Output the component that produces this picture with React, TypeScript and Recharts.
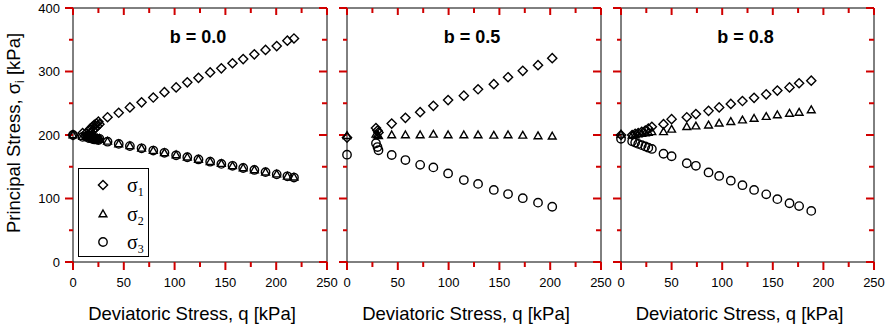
import { ScatterChart, Scatter, XAxis, YAxis, Label, Legend } from 'recharts';

// deviatoric stress q and principal stresses s1..s3, all in kPa
const qB00 = [0, 9.5, 13, 14.5, 16, 17, 18, 19, 20, 21, 22, 23, 24, 25, 26, 34, 45, 56, 67.5, 79, 90, 101.5, 112.5, 123.5, 135, 146, 157, 167.5, 178.5, 189.5, 200.5, 211, 217.5];
const s1B00 = [200, 203, 203, 200, 207, 210, 204, 213, 208, 216, 211, 218, 214, 221, 217, 228, 235, 243.5, 251.5, 259, 267.5, 275, 283, 290, 298.5, 305, 313, 319.5, 327, 334, 340, 348.5, 352];
const s2B00 = [200, 197.5, 198, 199.5, 196, 196.5, 198, 195, 196.5, 194, 195.5, 193.5, 194.5, 193, 194.5, 190, 186, 183, 179, 175.5, 172, 168.5, 165, 161.5, 158, 155, 151.5, 148, 145, 141.5, 138.5, 135, 133.5];
const s3B00 = [200, 197, 197, 199, 195, 196, 198, 194, 196, 193, 195, 193, 194, 192, 194, 189.5, 186, 182.5, 179, 175.5, 172, 168, 165, 161.5, 158, 154.5, 151.5, 148, 145, 141.5, 138, 135, 133];

const qB05 = [0, 28.5, 30, 31, 44, 57.5, 72, 85, 99.5, 115, 129, 144.5, 158.5, 173, 188, 202];
const s1B05 = [196, 211, 207, 204, 218, 227, 236, 246, 255, 262, 272, 280, 291, 301, 310, 321];
const s2B05 = [199, 201, 200, 199, 200, 200, 200, 201, 200, 200, 200, 199.5, 200, 199.5, 198.5, 198];
const s3B05 = [169, 187, 181, 176, 168.5, 160.5, 153, 149, 139.5, 129, 123, 113.5, 107, 100.5, 93.5, 87];

const qB08 = [0, 11, 14, 17, 20.5, 24, 27, 30.5, 42, 50, 65, 74, 86.5, 97, 108.5, 120, 131.5, 143.5, 154.5, 166.5, 176, 188];
const s1B08 = [200, 200, 202, 203, 205, 207, 210, 213, 217, 225, 228, 233, 238, 243.5, 249, 253.5, 258.5, 264, 270, 275, 281.5, 285.5];
const s2B08 = [201, 199.5, 200, 201.5, 202.5, 203, 204, 205, 205, 209, 213, 214, 215.5, 218.5, 221, 223.5, 226, 229, 231.5, 234, 235.5, 239.5];
const s3B08 = [194, 190, 188, 186, 184, 182, 180, 178, 170.5, 166.5, 155.5, 151.5, 141, 135.5, 128, 121, 113.5, 106.5, 99, 92.5, 88, 80.5];

const xTicks = [0, 25, 50, 75, 100, 125, 150, 175, 200, 225, 250];
const yTicks = [0, 50, 100, 150, 200, 250, 300, 350, 400];

const FONT = '"Liberation Sans", Arial, Helvetica, sans-serif';
const SERIF = '"Liberation Serif", "Times New Roman", serif';
const TICK_COLOR = '#d00000';

const X_MAX = 250;
const Y_MAX = 400;

const zip = (q: number[], s: number[]) => q.map((v, i) => ({ q: v, s: s[i] }));

const panels = [
  { title: 'b = 0.0', q: qB00, s1: s1B00, s2: s2B00, s3: s3B00, left: 0, width: 347, yw: 73, right: 19 },
  { title: 'b = 0.5', q: qB05, s1: s1B05, s2: s2B05, s3: s3B05, left: 327, width: 294, yw: 20, right: 19 },
  { title: 'b = 0.8', q: qB08, s1: s1B08, s2: s2B08, s3: s3B08, left: 601, width: 294, yw: 20, right: 20 },
];

// tick marks: placed through the chart scales, drawn as short strokes from the axis
const tickMark = (dx: number, dy: number) => ({ cx, cy }: any) => (
  <path d={`M${cx},${cy}l${dx},${dy}`} stroke={TICK_COLOR} strokeWidth={2} fill="none" />
);
const xMajor = xTicks.filter((v) => v % 50 === 0);
const xMinor = xTicks.filter((v) => v % 50 !== 0);
const yMajor = yTicks.filter((v) => v % 100 === 0);
const yMinor = yTicks.filter((v) => v % 100 !== 0);
const tickSets = [
  { key: 'bM', data: xMajor.map((v) => ({ q: v, s: 0 })), shape: tickMark(0, 8) },
  { key: 'bm', data: xMinor.map((v) => ({ q: v, s: 0 })), shape: tickMark(0, 5) },
  { key: 'tM', data: xMajor.map((v) => ({ q: v, s: Y_MAX })), shape: tickMark(0, 7) },
  { key: 'tm', data: xMinor.map((v) => ({ q: v, s: Y_MAX })), shape: tickMark(0, 5) },
  { key: 'lM', data: yMajor.map((v) => ({ q: 0, s: v })), shape: tickMark(-8, 0) },
  { key: 'lm', data: yMinor.map((v) => ({ q: 0, s: v })), shape: tickMark(-4, 0) },
  { key: 'rM', data: yMajor.map((v) => ({ q: X_MAX, s: v })), shape: tickMark(-8, 0) },
  { key: 'rm', data: yMinor.map((v) => ({ q: X_MAX, s: v })), shape: tickMark(-5, 0) },
];

const Diamond = ({ cx, cy }: any) => (
  <path d={`M${cx},${cy - 4.6}L${cx + 4.6},${cy}L${cx},${cy + 4.6}L${cx - 4.6},${cy}Z`} fill="none" stroke="#000" strokeWidth={1.4} />
);
const Triangle = ({ cx, cy }: any) => (
  <path d={`M${cx},${cy - 4}L${cx + 3.9},${cy + 2.8}L${cx - 3.9},${cy + 2.8}Z`} fill="none" stroke="#000" strokeWidth={1.4} />
);
const Circle = ({ cx, cy }: any) => <circle cx={cx} cy={cy} r={4.2} fill="none" stroke="#000" strokeWidth={1.4} />;

const markers: Record<string, any> = { 'σ1': Diamond, 'σ2': Triangle, 'σ3': Circle };

const BottomLabel = ({ x, y, payload }: any) =>
  payload.value % 50 === 0 ? (
    <text x={x} y={y + 25} textAnchor="middle" fontSize={13} fontFamily={FONT} fill="#000">
      {payload.value}
    </text>
  ) : (
    <g />
  );

const makeLeftLabel = (labels: boolean) => ({ x, y, payload }: any) =>
  labels && payload.value % 100 === 0 ? (
    <text x={x - 13} y={y + 4.6} textAnchor="end" fontSize={13} fontFamily={FONT} fill="#000">
      {payload.value}
    </text>
  ) : (
    <g />
  );

const YTitle = ({ viewBox }: any) => {
  const x = viewBox.x + 20;
  const y = viewBox.y + viewBox.height / 2 - 2;
  return (
    <text x={x} y={y} transform={`rotate(-90, ${x}, ${y})`} textAnchor="middle" fontSize={18.5} fontFamily={FONT} fill="#000">
      Principal Stress, σ<tspan fontSize={12} dy={4}>i</tspan>
      <tspan dy={-4}> [kPa]</tspan>
    </text>
  );
};

const LegendBox = ({ payload }: any) => (
  <div style={{ position: 'relative', width: 71, height: 89, border: '1px solid #000', boxSizing: 'border-box', background: '#fff' }}>
    {(payload || [])
      .filter((p: any) => markers[p.value])
      .map((p: any, i: number) => {
        const M = markers[p.value];
        return (
          <div key={p.value} style={{ position: 'absolute', left: 0, top: 2 + i * 28.5, height: 28, width: 69, display: 'flex', alignItems: 'center' }}>
            <svg width={14} height={14} style={{ marginLeft: 17 }}>
              <M cx={7} cy={7} />
            </svg>
            <span style={{ marginLeft: 17, fontFamily: SERIF, fontSize: 20, lineHeight: '20px', color: '#000' }}>
              {p.value.slice(0, 1)}
              <sub style={{ fontSize: 12, verticalAlign: '-4px', lineHeight: 0 }}>{p.value.slice(1)}</sub>
            </span>
          </div>
        );
      })}
  </div>
);

const axisLine = { stroke: '#000', strokeWidth: 1 };

const PanelChart = ({ p, first }: { p: (typeof panels)[number]; first: boolean }) => (
  <div style={{ position: 'absolute', left: p.left, top: 0 }}>
    <ScatterChart width={p.width} height={329} margin={{ top: 7, right: p.right, bottom: 0, left: 0 }}>
      <XAxis
        type="number"
        dataKey="q"
        domain={[0, X_MAX]}
        ticks={xTicks}
        interval={0}
        height={67}
        tickSize={0}
        tickMargin={0}
        tickLine={false}
        axisLine={axisLine}
        tick={BottomLabel}
      >
        <Label value="Deviatoric Stress, q [kPa]" position="insideBottom" offset={9} dx={-8} fontSize={18.5} fontFamily={FONT} fill="#000" />
      </XAxis>
      <XAxis
        xAxisId="top"
        orientation="top"
        type="number"
        dataKey="q"
        domain={[0, X_MAX]}
        allowDataOverflow
        ticks={xTicks}
        height={1}
        tickLine={false}
        axisLine={axisLine}
        tick={false}
      >
        <Label value={p.title} position="bottom" offset={22} dx={-2} fontSize={18} fontWeight="bold" fontFamily={FONT} fill="#000" />
      </XAxis>
      <YAxis
        type="number"
        dataKey="s"
        domain={[0, Y_MAX]}
        ticks={yTicks}
        interval={0}
        width={p.yw}
        tickSize={0}
        tickMargin={0}
        tickLine={false}
        axisLine={axisLine}
        tick={makeLeftLabel(first)}
      >
        {first && <Label content={YTitle} />}
      </YAxis>
      <YAxis
        yAxisId="right"
        orientation="right"
        type="number"
        dataKey="s"
        domain={[0, Y_MAX]}
        allowDataOverflow
        ticks={yTicks}
        width={1}
        tickLine={false}
        axisLine={axisLine}
        tick={false}
      />
      {first && (
        <Legend
          layout="vertical"
          align="center"
          verticalAlign="middle"
          content={LegendBox}
          wrapperStyle={{ left: 78, top: 168, width: 71, height: 89 }}
        />
      )}
      {tickSets.map((t) => (
        <Scatter key={t.key} data={t.data} dataKey="s" shape={t.shape} legendType="none" isAnimationActive={false} />
      ))}
      <Scatter name="σ1" data={zip(p.q, p.s1)} dataKey="s" shape={Diamond} isAnimationActive={false} />
      <Scatter name="σ2" data={zip(p.q, p.s2)} dataKey="s" shape={Triangle} isAnimationActive={false} />
      <Scatter name="σ3" data={zip(p.q, p.s3)} dataKey="s" shape={Circle} isAnimationActive={false} />
    </ScatterChart>
  </div>
);

const App = () => (
  <div style={{ position: 'absolute', left: 0, top: 0, width: 895, height: 329, background: '#fff', overflow: 'hidden' }}>
    {panels.map((p, i) => (
      <PanelChart key={p.title} p={p} first={i === 0} />
    ))}
  </div>
);

export default App;
